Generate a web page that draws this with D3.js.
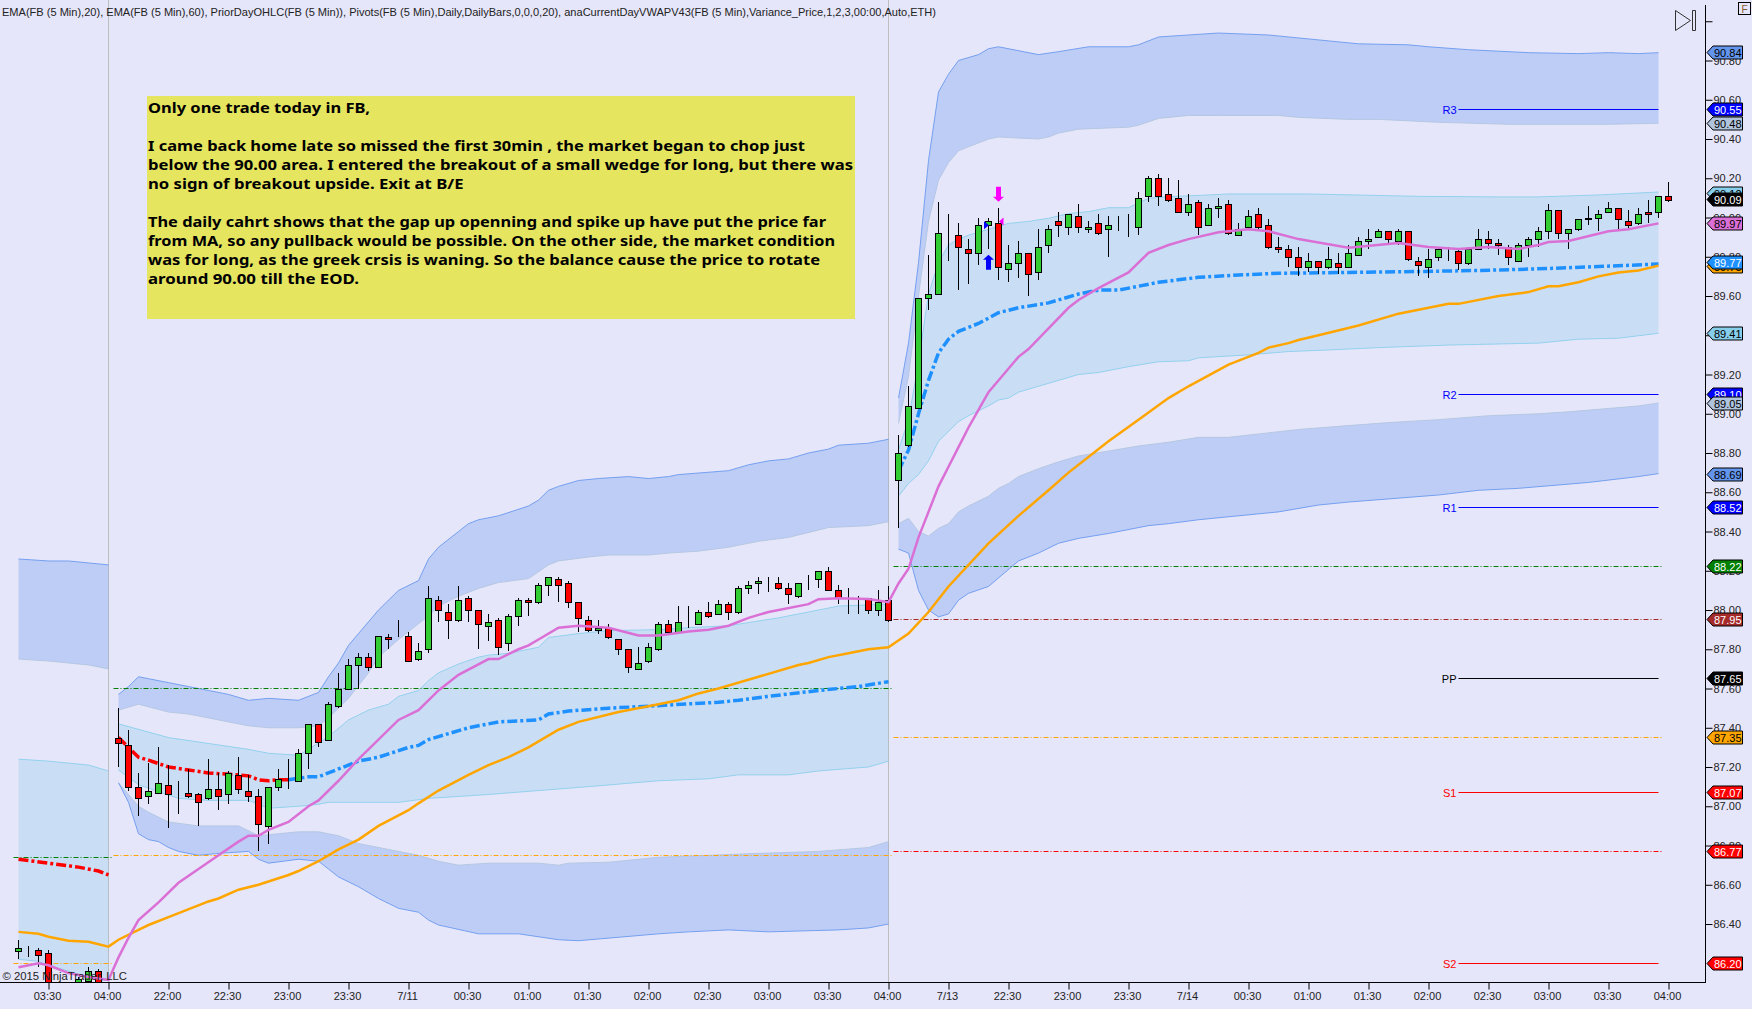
<!DOCTYPE html>
<html>
<head>
<meta charset="utf-8">
<title>FB 5 Min</title>
<script src="https://d3js.org/d3.v7.min.js"></script>
<style>
    html, body { margin: 0; padding: 0; background: #E6E6FA; overflow: hidden; }
    text { font-family: "Liberation Sans", Arial, sans-serif; font-size: 11px; fill: #222; }
    .note text { font-family: "Noto Sans", Tahoma, sans-serif; font-size: 14.5px; font-weight: bold; fill: #000; }
</style>
</head>
<body>
<svg id="vis" width="1752" height="1009"></svg>
<script>
// FB 5 Min, [open, high, low, close] per bar
var bars = [
    [86.26,86.32,86.22,86.28],[86.28,86.29,86.23,86.28],[86.27,86.28,86.18,86.24],[86.25,86.27,86.05,86.08],
    [86.08,86.09,86.00,86.02],[86.02,86.09,86.00,86.08],[86.05,86.13,86.03,86.12],[86.11,86.18,86.10,86.16],
    [86.16,86.17,86.07,86.09],[86.09,86.10,86.03,86.05],
    // session 2
    [87.35,87.50,87.20,87.32],[87.31,87.39,87.08,87.10],[87.10,87.17,86.95,87.04],[87.05,87.22,87.01,87.08],
    [87.07,87.30,87.06,87.12],[87.11,87.21,86.89,87.06],[87.06,87.13,86.96,87.06],[87.07,87.19,87.04,87.05],
    [87.06,87.07,86.90,87.02],[87.04,87.24,87.03,87.09],[87.09,87.17,86.98,87.05],[87.06,87.18,87.01,87.17],
    [87.16,87.25,87.06,87.09],[87.08,87.16,87.02,87.05],[87.05,87.09,86.77,86.91],[86.90,87.10,86.81,87.10],
    [87.10,87.19,87.08,87.14],[87.14,87.24,87.09,87.14],[87.13,87.29,87.13,87.27],[87.27,87.42,87.19,87.42],
    [87.42,87.42,87.30,87.33],[87.34,87.53,87.34,87.52],[87.51,87.68,87.50,87.60],[87.60,87.75,87.59,87.72],
    [87.72,87.78,87.60,87.76],[87.76,87.78,87.69,87.71],[87.71,87.87,87.71,87.87],[87.86,87.88,87.80,87.85],
    [87.87,87.95,87.86,87.87],[87.87,87.89,87.74,87.74],[87.75,87.83,87.74,87.79],[87.80,88.12,87.78,88.06],
    [88.05,88.07,87.94,88.00],[87.99,88.03,87.85,87.95],[87.95,88.12,87.94,88.05],[88.06,88.07,87.94,88.00],
    [88.00,88.00,87.80,87.93],[87.92,87.98,87.84,87.94],[87.95,87.96,87.77,87.81],[87.83,87.98,87.79,87.97],
    [87.97,88.06,87.92,88.05],[88.05,88.06,87.97,88.04],[88.04,88.14,88.03,88.13],[88.13,88.17,88.07,88.17],
    [88.16,88.17,88.04,88.13],[88.14,88.15,88.01,88.04],[88.04,88.04,87.89,87.96],[87.95,87.97,87.89,87.90],
    [87.90,87.95,87.88,87.91],[87.91,87.93,87.85,87.86],[87.85,87.85,87.77,87.80],[87.80,87.80,87.68,87.71],
    [87.70,87.81,87.70,87.73],[87.74,87.83,87.73,87.81],[87.80,87.94,87.79,87.93],[87.93,87.95,87.89,87.89],
    [87.89,88.02,87.89,87.94],[87.93,88.02,87.91,87.93],[87.93,88.00,87.93,87.99],[87.99,88.04,87.96,87.97],
    [87.98,88.05,87.98,88.03],[88.03,88.04,87.95,87.99],[87.99,88.12,87.98,88.11],[88.11,88.15,88.08,88.13],
    [88.14,88.17,88.08,88.15],[88.15,88.17,88.09,88.15],[88.14,88.17,88.10,88.11],[88.11,88.14,88.03,88.08],
    [88.07,88.14,88.06,88.14],[88.15,88.18,88.10,88.15],[88.16,88.20,88.11,88.20],[88.20,88.22,88.10,88.10],
    [88.10,88.13,88.03,88.06],[88.06,88.11,87.98,88.06],[88.06,88.07,87.98,88.06],[88.06,88.06,87.98,88.00],
    [88.00,88.10,87.97,88.04],[88.05,88.12,87.94,87.95],
    // session 3
    [88.66,88.89,88.42,88.80],[88.84,89.14,88.83,89.04],[89.03,89.59,89.03,89.59],[89.59,89.81,89.53,89.61],
    [89.61,90.08,89.61,89.92],[89.92,90.02,89.78,89.92],[89.91,89.97,89.63,89.85],[89.84,89.89,89.66,89.82],
    [89.82,90.00,89.76,89.96],[89.96,90.00,89.84,89.98],[89.97,90.05,89.68,89.75],[89.74,89.86,89.67,89.77],
    [89.77,89.88,89.69,89.82],[89.82,89.82,89.60,89.71],[89.72,89.94,89.68,89.85],[89.86,89.96,89.82,89.94],
    [89.98,90.03,89.90,89.96],[89.95,90.02,89.91,90.02],[90.01,90.07,89.92,89.95],[89.94,89.98,89.92,89.95],
    [89.97,90.02,89.91,89.92],[89.94,90.01,89.80,89.96],[89.96,90.01,89.93,89.96],[89.96,90.02,89.90,89.96],
    [89.95,90.13,89.91,90.10],[90.11,90.21,90.08,90.20],[90.20,90.22,90.06,90.11],[90.12,90.20,90.08,90.09],
    [90.10,90.19,90.03,90.03],[90.03,90.12,90.01,90.07],[90.08,90.09,89.91,89.95],[89.96,90.07,89.96,90.05],
    [90.05,90.10,90.00,90.06],[90.07,90.09,89.91,89.92],[89.91,89.97,89.91,89.94],[89.95,90.04,89.95,90.01],
    [90.02,90.05,89.94,89.95],[89.96,89.99,89.84,89.85],[89.85,89.90,89.82,89.84],[89.84,89.86,89.75,89.80],
    [89.80,89.85,89.70,89.75],[89.75,89.82,89.72,89.78],[89.78,89.78,89.71,89.75],[89.75,89.85,89.74,89.79],
    [89.77,89.82,89.71,89.75],[89.75,89.86,89.75,89.82],[89.81,89.90,89.81,89.88],[89.88,89.94,89.84,89.89],
    [89.90,89.94,89.90,89.93],[89.93,89.93,89.87,89.89],[89.88,89.94,89.86,89.93],[89.93,89.93,89.78,89.79],
    [89.78,89.80,89.70,89.76],[89.75,89.84,89.69,89.79],[89.80,89.85,89.78,89.84],[89.83,89.85,89.78,89.83],
    [89.83,89.84,89.73,89.77],[89.77,89.85,89.76,89.84],[89.84,89.94,89.84,89.89],[89.89,89.93,89.84,89.87],
    [89.87,89.89,89.81,89.86],[89.85,89.86,89.76,89.80],[89.78,89.87,89.78,89.86],[89.86,89.90,89.80,89.89],
    [89.89,89.95,89.85,89.93],[89.93,90.07,89.89,90.04],[90.04,90.04,89.89,89.92],[89.92,89.94,89.84,89.94],
    [89.94,89.99,89.93,89.99],[89.99,90.06,89.96,90.00],[90.00,90.04,89.93,90.02],[90.03,90.08,90.03,90.05],
    [90.05,90.05,89.93,89.99],[89.98,90.04,89.94,89.96],[89.97,90.05,89.96,90.02],[90.03,90.09,89.97,90.02],
    [90.03,90.11,90.00,90.11],[90.11,90.18,90.08,90.09]
];

// indicators as [bar index, price] knots
var ema20 = [[0,86.18],[2,86.20],[3,86.19],[5,86.15],[7,86.13],[9,86.115],[10,86.23],[11,86.33],[12,86.42],[14,86.51],[16,86.61],[18,86.68],[20,86.75],[22,86.82],[23,86.85],[24,86.85],[25,86.88],[27,86.92],[29,87.00],[30,87.03],[32,87.13],[34,87.24],[35,87.29],[38,87.44],[40,87.49],[42,87.59],[44,87.67],[47,87.75],[48,87.75],[50,87.80],[51,87.82],[52,87.85],[54,87.91],[56,87.92],[59,87.91],[62,87.87],[64,87.87],[67,87.89],[69,87.90],[71,87.92],[73,87.96],[75,87.99],[79,88.03],[80,88.055],[82,88.06],[85,88.056],[87,88.04],[88,88.135],[89,88.21],[90,88.37],[91,88.50],[92,88.63],[93,88.73],[94,88.83],[95,88.93],[96,89.02],[97,89.11],[100,89.29],[101,89.33],[105,89.54],[106,89.58],[108,89.64],[111,89.72],[113,89.82],[115,89.86],[117,89.89],[120,89.925],[123,89.94],[125,89.93],[128,89.89],[133,89.846],[138,89.87],[141,89.85],[144,89.84],[147,89.85],[150,89.84],[152,89.86],[153,89.875],[155,89.88],[159,89.93],[161,89.94],[164,89.97]];
var ema60 = [[0,86.36],[2,86.35],[3,86.335],[5,86.315],[7,86.31],[9,86.285],[10,86.32],[12,86.37],[13,86.395],[15,86.435],[19,86.515],[20,86.53],[22,86.575],[24,86.60],[27,86.65],[28,86.67],[30,86.72],[32,86.78],[34,86.83],[36,86.90],[39,86.98],[40,87.015],[42,87.08],[45,87.16],[47,87.21],[49,87.25],[51,87.30],[54,87.39],[56,87.43],[60,87.48],[64,87.52],[66,87.54],[68,87.575],[70,87.60],[74,87.66],[78,87.72],[79,87.73],[81,87.76],[83,87.78],[85,87.80],[87,87.81],[89,87.88],[91,87.99],[93,88.12],[97,88.34],[100,88.48],[103,88.61],[105,88.70],[109,88.86],[112,88.97],[115,89.08],[117,89.14],[121,89.25],[124,89.31],[125,89.337],[127,89.36],[128,89.376],[130,89.40],[134,89.45],[138,89.51],[139,89.52],[143,89.56],[144,89.56],[148,89.60],[151,89.62],[153,89.65],[154,89.65],[156,89.67],[158,89.70],[160,89.72],[162,89.73],[164,89.755]];

var vwapRedA = [[0,86.73],[3,86.71],[6,86.69],[8,86.67],[9,86.65]];
var vwapRedB = [[10,87.35],[11,87.30],[12,87.25],[13,87.235],[15,87.20],[17,87.185],[19,87.17],[22,87.16],[23,87.155],[24,87.135],[25,87.13],[26,87.135],[27,87.135]];
var vwapBlueB = [[27,87.135],[29,87.15],[30,87.15],[32,87.19],[34,87.23],[36,87.25],[39,87.30],[40,87.31],[41,87.34],[42,87.355],[45,87.40],[48,87.43],[52,87.44],[53,87.47],[55,87.485],[59,87.50],[63,87.51],[65,87.516],[70,87.53],[72,87.54],[75,87.56],[80,87.59],[84,87.61],[87,87.635]];
var vwapBlueC = [[88,88.71],[89,88.815],[90,89.00],[91,89.17],[92,89.31],[93,89.38],[94,89.42],[96,89.46],[98,89.515],[100,89.54],[103,89.565],[106,89.61],[108,89.63],[110,89.63],[112,89.65],[114,89.67],[118,89.695],[122,89.707],[126,89.716],[133,89.72],[140,89.725],[146,89.73],[153,89.74],[158,89.75],[164,89.763]];

// std dev bands, session A
var upOuterA = [[0,88.26],[3,88.25],[5,88.25],[7,88.24],[9,88.23]];
var upInnerA = [[0,87.75],[3,87.74],[5,87.73],[7,87.72],[9,87.70]];
var midTopA = [[0,87.24],[3,87.23],[5,87.22],[7,87.21],[9,87.18]];
var midBotA = [[0,86.22],[2,86.21],[3,86.19],[5,86.16],[7,86.13],[9,86.11]];

// session B
var upOuterB = [[10,87.57],[11,87.61],[12,87.66],[13,87.65],[15,87.63],[17,87.61],[19,87.59],[21,87.57],[23,87.54],[25,87.55],[28,87.54],[30,87.58],[31,87.66],[32,87.73],[33,87.82],[34,87.88],[36,88.00],[38,88.10],[40,88.15],[41,88.26],[42,88.32],[44,88.40],[45,88.44],[46,88.46],[48,88.48],[51,88.53],[52,88.56],[53,88.61],[54,88.63],[56,88.66],[58,88.67],[61,88.68],[63,88.67],[65,88.68],[66,88.69],[71,88.71],[73,88.74],[75,88.76],[77,88.77],[79,88.80],[81,88.82],[82,88.84],[85,88.85],[87,88.87]];
var upInnerB = [[10,87.49],[12,87.52],[15,87.48],[17,87.47],[21,87.43],[23,87.41],[25,87.40],[28,87.40],[30,87.41],[31,87.45],[33,87.55],[35,87.68],[36,87.76],[38,87.85],[40,87.93],[41,87.97],[42,88.02],[44,88.07],[46,88.11],[48,88.14],[51,88.16],[53,88.23],[54,88.25],[57,88.27],[59,88.28],[63,88.28],[65,88.29],[68,88.30],[71,88.32],[74,88.35],[77,88.37],[81,88.42],[85,88.43],[87,88.45]];
var midTopB = [[10,87.42],[15,87.35],[19,87.32],[23,87.29],[25,87.27],[28,87.26],[29,87.29],[31,87.355],[33,87.44],[35,87.49],[37,87.52],[38,87.56],[40,87.59],[41,87.64],[42,87.68],[44,87.725],[46,87.76],[47,87.77],[49,87.78],[52,87.81],[53,87.86],[56,87.88],[59,87.895],[64,87.90],[67,87.91],[71,87.92],[76,87.96],[79,87.99],[82,88.02],[87,88.03]];
var midBotB = [[10,87.185],[12,87.11],[16,87.04],[19,87.03],[23,87.03],[24,87.01],[25,86.99],[28,87.00],[30,87.01],[31,87.02],[38,87.02],[41,87.04],[47,87.06],[52,87.08],[57,87.10],[64,87.13],[69,87.14],[72,87.16],[77,87.16],[80,87.18],[85,87.20],[87,87.23]];
var lowInnerB = [[10,87.12],[12,87.00],[13,86.97],[15,86.92],[18,86.90],[22,86.90],[24,86.85],[28,86.87],[30,86.87],[32,86.85],[34,86.81],[37,86.78],[40,86.75],[42,86.72],[44,86.70],[47,86.71],[52,86.71],[54,86.70],[55,86.71],[59,86.715],[64,86.74],[69,86.75],[74,86.76],[80,86.77],[85,86.79],[87,86.82]];
var lowOuterB = [[10,87.12],[11,87.02],[12,86.86],[13,86.83],[14,86.82],[15,86.79],[16,86.77],[18,86.75],[20,86.76],[23,86.77],[24,86.73],[25,86.71],[28,86.73],[30,86.72],[31,86.68],[32,86.64],[34,86.59],[36,86.53],[38,86.48],[40,86.46],[41,86.42],[42,86.395],[46,86.35],[50,86.35],[54,86.32],[56,86.315],[64,86.35],[67,86.36],[71,86.37],[75,86.36],[82,86.37],[85,86.38],[87,86.40]];

// session C
var upOuterC = [[88,89.08],[89,89.36],[90,89.77],[91,90.29],[92,90.64],[93,90.73],[94,90.80],[96,90.83],[97,90.86],[98,90.87],[102,90.83],[104,90.845],[107,90.87],[111,90.87],[112,90.88],[114,90.92],[117,90.93],[120,90.94],[125,90.93],[131,90.90],[134,90.885],[139,90.88],[141,90.87],[145,90.855],[151,90.84],[156,90.835],[159,90.84],[162,90.835],[164,90.84]];
var upInnerC = [[88,88.95],[89,89.19],[90,89.60],[91,89.98],[92,90.19],[93,90.28],[94,90.34],[95,90.36],[97,90.40],[98,90.41],[102,90.40],[103,90.41],[104,90.43],[106,90.45],[111,90.46],[112,90.47],[114,90.505],[117,90.52],[120,90.52],[126,90.52],[128,90.51],[133,90.50],[136,90.50],[142,90.485],[149,90.475],[159,90.475],[164,90.48]];
var midTopC = [[88,88.815],[89,88.97],[90,89.26],[91,89.61],[92,89.77],[93,89.86],[94,89.89],[95,89.91],[97,89.94],[99,89.97],[101,89.98],[103,89.996],[105,90.02],[107,90.03],[109,90.05],[111,90.05],[113,90.098],[115,90.106],[119,90.115],[121,90.12],[129,90.12],[140,90.108],[148,90.105],[152,90.105],[158,90.115],[164,90.13]];
var midBotC = [[88,88.58],[89,88.645],[90,88.69],[91,88.76],[92,88.86],[94,88.96],[95,88.99],[97,89.04],[98,89.07],[99,89.08],[100,89.11],[102,89.14],[104,89.17],[106,89.20],[108,89.21],[111,89.24],[114,89.265],[117,89.27],[118,89.285],[123,89.30],[127,89.317],[131,89.325],[136,89.337],[143,89.35],[152,89.36],[156,89.38],[160,89.385],[164,89.41]];
var lowInnerC = [[88,88.44],[89,88.467],[90,88.40],[91,88.377],[92,88.416],[93,88.44],[94,88.50],[95,88.53],[97,88.58],[98,88.62],[99,88.645],[100,88.68],[102,88.72],[104,88.755],[106,88.785],[109,88.81],[112,88.836],[115,88.855],[118,88.88],[121,88.88],[128,88.92],[133,88.94],[137,88.955],[142,88.97],[147,88.99],[152,89.00],[155,89.01],[162,89.04],[164,89.055]];
var lowOuterC = [[88,88.31],[89,88.29],[90,88.10],[91,88.00],[92,87.965],[93,87.98],[94,88.05],[95,88.085],[97,88.12],[100,88.25],[102,88.29],[104,88.34],[106,88.365],[109,88.39],[113,88.43],[115,88.44],[118,88.46],[126,88.50],[130,88.535],[133,88.55],[138,88.57],[142,88.586],[146,88.61],[150,88.62],[157,88.65],[162,88.68],[164,88.695]];

// prior day levels: [price, first bar, last bar, colour]
var priorDayLevels = [
    [86.74, -0.5, 9.5, "#008000"], [86.20, -0.5, 9.5, "#FFA500"],
    [87.60, 9.5, 87.5, "#008000"], [86.75, 9.5, 87.5, "#FFA500"],
    [88.22, 87.5, 164.5, "#008000"], [87.95, 87.5, 164.5, "#A52A2A"],
    [87.35, 87.5, 164.5, "#FFA500"], [86.77, 87.5, 164.5, "#FF0000"]
];

var pivotNames = ["R3", "R2", "R1", "PP", "S1", "S2"];
var pivotValues = [90.55, 89.10, 88.52, 87.65, 87.07, 86.20];
var pivotColors = ["#0000FF", "#0000FF", "#0000FF", "#000000", "#FF0000", "#FF0000"];

// price flags on the axis, later ones sit on top
var flagValues = [90.84, 90.55, 90.48, 90.12, 90.09, 89.97, 89.75, 89.77, 89.41, 89.10, 89.05, 88.69, 88.52, 88.22, 87.95, 87.65, 87.35, 87.07, 86.77, 86.20];
var flagFills = ["#6495ED", "#0000FF", "#B0C4DE", "#87CEEB", "#000000", "#DA70D6", "#FFA500", "#1E90FF", "#87CEEB", "#0000FF", "#B0C4DE", "#6495ED", "#0000FF", "#008000", "#A52A2A", "#000000", "#FFA500", "#FF0000", "#FF0000", "#FF0000"];
var flagInks = ["#000", "#FFF", "#000", "#000", "#FFF", "#000", "#000", "#FFF", "#000", "#FFF", "#000", "#000", "#FFF", "#FFF", "#FFF", "#FFF", "#000", "#FFF", "#FFF", "#FFF"];

var priceTicks = [91.00, 90.80, 90.60, 90.40, 90.20, 90.00, 89.80, 89.60, 89.40, 89.20, 89.00, 88.80, 88.60, 88.40, 88.20, 88.00, 87.80, 87.60, 87.40, 87.20, 87.00, 86.80, 86.60, 86.40];
var timeTickBars = [3, 9, 15, 21, 27, 33, 39, 45, 51, 57, 63, 69, 75, 81, 87, 93, 99, 105, 111, 117, 123, 129, 135, 141, 147, 153, 159, 165];
var timeTickLabels = ["03:30", "04:00", "22:00", "22:30", "23:00", "23:30", "7/11", "00:30", "01:00", "01:30", "02:00", "02:30", "03:00", "03:30", "04:00", "7/13", "22:30", "23:00", "23:30", "7/14", "00:30", "01:00", "01:30", "02:00", "02:30", "03:00", "03:30", "04:00"];

var headerText = "EMA(FB (5 Min),20), EMA(FB (5 Min),60), PriorDayOHLC(FB (5 Min)), Pivots(FB (5 Min),Daily,DailyBars,0,0,0,20), anaCurrentDayVWAPV43(FB (5 Min),Variance_Price,1,2,3,00:00,Auto,ETH)";

var noteLines = [
    "Only one trade today in FB,",
    "",
    "I came back home late so missed the first 30min , the market began to chop just",
    "below the 90.00 area. I entered the breakout of a small wedge for long, but there was",
    "no sign of breakout upside. Exit at B/E",
    "",
    "The daily cahrt shows that the gap up openning and spike up have put the price far",
    "from MA, so any pullback would be possible. On the other side, the market condition",
    "was for long, as the greek crsis is waning. So the balance cause the price to rotate",
    "around 90.00 till the EOD."
];
// fitted widths, the original font is not installed
var noteWidths = [222, 0, 657, 705, 315.5, 0, 678, 687, 672, 211];

// trade markers: bar index, price
var entryArrow = [97, 89.81];
var exitArrow = [98, 90.08];
var entryMark = [97, 89.96];
var exitMark = [98, 89.98];

(function () {
    var svg = d3.select("#vis");
    var plotRight = 1705, plotBottom = 982;

    var x = d3.scaleLinear().domain([0, 165]).range([18.5, 1668.5]);
    var y = d3.scaleLinear().domain([86.10, 91.10]).range([982.9, 1.63]);

    var line = d3.line()
        .x(function (d) { return x(d[0]); })
        .y(function (d) { return y(d[1]); });

    svg.append("defs").append("clipPath").attr("id", "plot")
        .append("rect").attr("width", plotRight).attr("height", plotBottom);
    var plot = svg.append("g").attr("clip-path", "url(#plot)");

    // session breaks
    [9, 87].forEach(function (i) {
        plot.append("line")
            .attr("x1", x(i)).attr("x2", x(i))
            .attr("y1", 0).attr("y2", plotBottom)
            .attr("stroke", "#BEBEBE");
    });

    function band(top, bottom, fill, topStroke, bottomStroke) {
        plot.append("path")
            .attr("d", line(top.concat(bottom.slice().reverse())) + "Z")
            .attr("fill", fill).attr("fill-opacity", 0.3);
        plot.append("path").attr("d", line(top))
            .attr("fill", "none").attr("stroke", topStroke).attr("stroke-opacity", 0.85);
        plot.append("path").attr("d", line(bottom))
            .attr("fill", "none").attr("stroke", bottomStroke).attr("stroke-opacity", 0.85);
    }

    var cornflower = "#6495ED", steel = "#B0C4DE", sky = "#87CEEB";
    band(upOuterA, upInnerA, cornflower, cornflower, steel);
    band(midTopA, midBotA, sky, sky, sky);
    band(upOuterB, upInnerB, cornflower, cornflower, steel);
    band(midTopB, midBotB, sky, sky, sky);
    band(lowInnerB, lowOuterB, cornflower, steel, cornflower);
    band(upOuterC, upInnerC, cornflower, cornflower, steel);
    band(midTopC, midBotC, sky, sky, sky);
    band(lowInnerC, lowOuterC, cornflower, steel, cornflower);

    // pivots and prior day levels
    pivotValues.forEach(function (v, i) {
        var py = Math.floor(y(v)) + 0.5;
        plot.append("line")
            .attr("x1", x(144)).attr("x2", x(164))
            .attr("y1", py).attr("y2", py)
            .attr("stroke", pivotColors[i]);
        plot.append("text")
            .attr("x", x(144) - 2).attr("y", py + 4)
            .attr("text-anchor", "end")
            .style("fill", pivotColors[i])
            .text(pivotNames[i]);
    });
    priorDayLevels.forEach(function (d) {
        var py = Math.floor(y(d[0])) + 0.5;
        plot.append("line")
            .attr("x1", x(d[1])).attr("x2", x(d[2]))
            .attr("y1", py).attr("y2", py)
            .attr("stroke", d[3])
            .attr("stroke-dasharray", "5 2 1 2");
    });

    // vwap
    [[vwapRedA, "#FF0000"], [vwapRedB, "#FF0000"], [vwapBlueB, "#1E90FF"], [vwapBlueC, "#1E90FF"]].forEach(function (s) {
        plot.append("path").attr("d", line(s[0]))
            .attr("fill", "none").attr("stroke", s[1])
            .attr("stroke-width", 3.5)
            .attr("stroke-dasharray", "10 3 3 3");
    });

    // candles
    var candle = plot.append("g").selectAll("g").data(bars).enter().append("g");
    candle.append("line")
        .attr("x1", function (d, i) { return x(i); })
        .attr("x2", function (d, i) { return x(i); })
        .attr("y1", function (d) { return Math.round(y(d[1])); })
        .attr("y2", function (d) { return Math.round(y(d[2])); })
        .attr("stroke", "#000")
        .attr("shape-rendering", "crispEdges");
    candle.append("rect")
        .attr("x", function (d, i) { return x(i) - 3; })
        .attr("y", function (d) { return Math.round(y(Math.max(d[0], d[3]))) + 0.5; })
        .attr("width", 6)
        .attr("height", function (d) { return Math.round(y(Math.min(d[0], d[3]))) - Math.round(y(Math.max(d[0], d[3]))); })
        .attr("fill", function (d) { return d[3] >= d[0] ? "#32CD32" : "#FF0000"; })
        .attr("stroke", "#000")
        .attr("shape-rendering", "crispEdges");

    // emas
    plot.append("path").attr("d", line(ema60))
        .attr("fill", "none").attr("stroke", "#FFA500").attr("stroke-width", 2.5);
    plot.append("path").attr("d", line(ema20))
        .attr("fill", "none").attr("stroke", "#DA70D6").attr("stroke-width", 2.5);

    // trade markers
    function arrow(pos, dir, color) {
        var tx = x(pos[0]), ty = y(pos[1]);
        var pts = [[0, 0], [5.5, 5], [2.5, 5], [2.5, 15], [-2.5, 15], [-2.5, 5], [-5.5, 5]];
        plot.append("polygon")
            .attr("points", pts.map(function (p) { return [tx + p[0], ty + dir * p[1]].join(","); }).join(" "))
            .attr("fill", color);
    }
    arrow(entryArrow, 1, "#0000FF");
    arrow(exitArrow, -1, "#FF00FF");

    plot.append("polygon")
        .attr("points", [[x(entryMark[0]) - 4.5, y(entryMark[1]) - 4], [x(entryMark[0]) + 0.5, y(entryMark[1])], [x(entryMark[0]) - 4.5, y(entryMark[1]) + 4]].join(" "))
        .attr("fill", "#0000FF");
    plot.append("polygon")
        .attr("points", [[x(exitMark[0]) + 5, y(exitMark[1]) - 4], [x(exitMark[0]) + 0.5, y(exitMark[1])], [x(exitMark[0]) + 5, y(exitMark[1]) + 4]].join(" "))
        .attr("fill", "#FF00FF");

    // note
    var note = svg.append("g").attr("class", "note");
    note.append("rect")
        .attr("x", 147).attr("y", 96)
        .attr("width", 708).attr("height", 223)
        .attr("fill", "#E5E560");
    noteLines.forEach(function (s, i) {
        if (!s) return;
        note.append("text")
            .attr("x", 148).attr("y", 113 + i * 19)
            .attr("textLength", noteWidths[i])
            .attr("lengthAdjust", "spacingAndGlyphs")
            .text(s);
    });

    // header, copyright
    svg.append("text")
        .attr("x", 2).attr("y", 16)
        .attr("textLength", 934).attr("lengthAdjust", "spacingAndGlyphs")
        .text(headerText);
    svg.append("text")
        .attr("x", 2.5).attr("y", 980)
        .attr("textLength", 124.5).attr("lengthAdjust", "spacingAndGlyphs")
        .text("\u00A9 2015 NinjaTrader, LLC");

    // axes
    var yAxis = d3.axisRight(y)
        .tickValues(priceTicks)
        .tickSize(7).tickPadding(1)
        .tickFormat(function (d) { return d > 90.9 ? "" : d.toFixed(2); });
    var yG = svg.append("g").attr("transform", "translate(" + (plotRight + 0.5) + ",0)").call(yAxis);
    yG.select(".domain").remove();
    yG.selectAll("line").attr("stroke", "#000");
    yG.append("line").attr("y1", 5).attr("y2", plotBottom + 0.5).attr("stroke", "#000");

    var xAxis = d3.axisBottom(x)
        .tickValues(timeTickBars)
        .tickSize(7).tickPadding(3)
        .tickFormat(function (d) { return timeTickLabels[timeTickBars.indexOf(d)]; });
    var xG = svg.append("g").attr("transform", "translate(0," + (plotBottom + 0.5) + ")").call(xAxis);
    xG.select(".domain").remove();
    xG.selectAll("line").attr("stroke", "#000");
    xG.selectAll("text").attr("dx", -1.5);
    xG.append("line").attr("x1", 0).attr("x2", plotRight + 1).attr("stroke", "#000");

    // flags
    flagValues.forEach(function (v, i) {
        var fy = Math.floor(y(v)) + 0.5;
        svg.append("polygon")
            .attr("points", [[1707, fy], [1713, fy - 6.5], [1742.5, fy - 6.5], [1742.5, fy + 6.5], [1713, fy + 6.5]].join(" "))
            .attr("fill", flagFills[i])
            .attr("stroke", "#000");
        svg.append("text")
            .attr("x", 1714).attr("y", fy + 4)
            .style("fill", flagInks[i])
            .text(v.toFixed(2));
    });

    // replay button and F box, top right
    svg.append("path")
        .attr("d", "M1675.5,10.5 L1690.5,20.5 L1675.5,30.5 Z M1692.5,10.5 H1695.5 V30.5 H1692.5 Z")
        .attr("fill", "none").attr("stroke", "#333");
    svg.append("rect")
        .attr("x", 1738.5).attr("y", 2.5)
        .attr("width", 12).attr("height", 12)
        .attr("fill", "#E6E6FA").attr("stroke", "#000");
    svg.append("text")
        .attr("x", 1744.5).attr("y", 12.5)
        .attr("text-anchor", "middle")
        .style("fill", "#8A5A2B").style("font-size", "10px")
        .text("F");
})();
</script>
</body>
</html>
